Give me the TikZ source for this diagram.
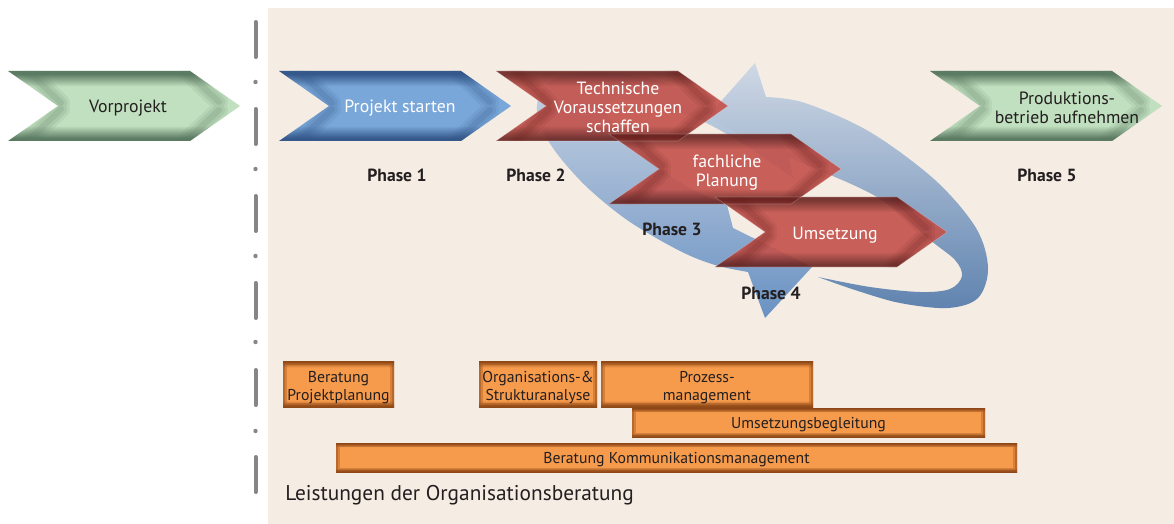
\documentclass[tikz,border=0pt]{standalone}
\usepackage{fontspec}
\setmainfont{PT Sans}
\definecolor{bgbeige}{HTML}{F5ECE3}
\definecolor{dashgray}{HTML}{86868A}
\definecolor{gdark}{HTML}{5C7B63}
\definecolor{glight}{HTML}{C1E0BF}
\definecolor{bdark}{HTML}{35598A}
\definecolor{blight}{HTML}{7AA7DA}
\definecolor{rdark}{HTML}{6C2421}
\definecolor{rlight}{HTML}{C4514A}
\definecolor{odark}{HTML}{8E4716}
\definecolor{olight}{HTML}{F69A4B}
\definecolor{txt}{HTML}{231F20}
\definecolor{alight}{HTML}{CAD4E2}
\definecolor{adark}{HTML}{6A92C3}
\pgfdeclareverticalshading{grsh}{100bp}{color(0bp)=(gdark); color(27bp)=(gdark); color(36bp)=(glight); color(64bp)=(glight); color(73bp)=(gdark); color(100bp)=(gdark)}
\pgfdeclareverticalshading{blsh}{100bp}{color(0bp)=(bdark); color(27bp)=(bdark); color(36bp)=(blight); color(64bp)=(blight); color(73bp)=(bdark); color(100bp)=(bdark)}
\pgfdeclareverticalshading{rdsh}{100bp}{color(0bp)=(rdark); color(27bp)=(rdark); color(36bp)=(rlight); color(64bp)=(rlight); color(73bp)=(rdark); color(100bp)=(rdark)}
\pgfdeclareverticalshading{orsh}{100bp}{color(0bp)=(odark); color(25bp)=(odark); color(32bp)=(olight); color(68bp)=(olight); color(75bp)=(odark); color(100bp)=(odark)}
\newcommand\chevpath[2]{(#1,#2) -- ++(182,0) -- ++(50,35) -- ++(-50,35) -- ++(-182,0) -- ++(50,-35) -- cycle}
\newcommand\chev[5]{%
  \begin{scope}
    \shade[shading=#3, fill opacity=#5] \chevpath{#1}{#2};
    \clip \chevpath{#1}{#2};
    \foreach \w/\o in {18/0.10, 12/0.13, 6/0.16} {
      \draw[#4, line width=\w*0.75pt, opacity=\o, line cap=round]
        (#1+20,#2) -- (#1+53,#2+32) (#1+53,#2+38) -- (#1+20,#2+70)
        (#1+178,#2) -- (#1+211,#2+31) (#1+211,#2+39) -- (#1+178,#2+70);
    }
  \end{scope}}
\tikzset{
  chevtext/.style={align=center, font=\fontsize{13.3}{14.25}\selectfont, inner sep=0pt},
  phase/.style={font=\fontsize{13.2}{15}\selectfont\bfseries, text=txt, inner sep=0pt},
  obox/.style={shade, shading=orsh, inner sep=0pt,
    path picture={\draw[odark, line width=6pt, opacity=0.3] (path picture bounding box.south west) rectangle (path picture bounding box.north east);
                  \draw[odark, line width=3pt, opacity=0.4] (path picture bounding box.south west) rectangle (path picture bounding box.north east);}},
  boxtext/.style={inner sep=0pt, align=center, text=txt, font=\fontsize{11.8}{13.5}\selectfont},
}
\begin{document}
\begin{tikzpicture}[x=0.75pt,y=-0.75pt]
\useasboundingbox (0,0) rectangle (1174,524);
\fill[white] (0,0) rectangle (1174,524);
\fill[bgbeige] (268,8) rectangle (1174,524);
% dash-dot separator
\foreach \y in {22,109,196,283,370,457} {
  \draw[dashgray, line width=3pt, line cap=round] (255.5,\y) -- (255.5,\y+35);
}
\foreach \y in {82,169,256,342,431} {
  \fill[dashgray] (255.5,\y) circle (2.2);
}
% green and blue chevrons
\chev{8}{71}{grsh}{gdark}{1}
\node[chevtext, text=txt] (vor) at (128,108) {Vorprojekt};
\chev{279}{71}{blsh}{bdark}{1}
\node[chevtext, text=white] (ps) at (400,108) {Projekt starten};
\chev{930}{71}{grsh}{gdark}{1}
\node[chevtext, text=txt] (prod) at (1067,108) {Produktions-\\betrieb aufnehmen};
% blue circular arrows
\shade[top color=alight, bottom color=adark]
  plot[smooth, tension=0.55] coordinates {(788,152) (750,125) (705,100) (655,80) (600,72) (560,76) (541,92) (537,112) (545,135) (562,160) (590,190) (630,222) (680,251) (715,265) (748,272)}
  -- (765,318) -- (812,267) -- (733,228) -- (727,205)
  -- plot[smooth, tension=0.55] coordinates {(727,205) (690,188) (652,163) (622,135) (607,112) (615,100) (650,103) (700,120) (745,145) (793,178)}
  -- cycle;
\shade[top color=alight!90!white, bottom color=adark!90!black]
  (755,63) -- (766,97)
  -- plot[smooth, tension=0.55] coordinates {(766,97) (805,103) (870,132) (935,180) (976,228) (988,268) (978,298) (948,308) (900,303) (855,290) (818,277)}
  -- plot[smooth, tension=0.55] coordinates {(818,277) (870,287) (920,292) (950,289) (962,276) (955,260) (930,240) (877,197) (800,162) (740,134) (708,116)}
  -- cycle;
% red chevrons
\chev{496}{71}{rdsh}{rdark}{0.9}
\chev{609}{134}{rdsh}{rdark}{0.9}
\chev{715}{197}{rdsh}{rdark}{0.9}
\foreach \cx/\cy in {496/71, 609/134, 715/197} {
  \draw[white, opacity=0.25, line width=0.4pt] \chevpath{\cx}{\cy};
}
\node[chevtext, text=white] (tvs) at (618,107) {Technische\\Voraussetzungen\\schaffen};
\node[chevtext, text=white] (fp) at (727,173) {fachliche\\Planung};
\node[chevtext, text=white] (ums) at (835,235) {Umsetzung};
% phase labels
\node[phase] (p1) at (397,175) {Phase 1};
\node[phase] (p2) at (536,175) {Phase 2};
\node[phase] (p3) at (672,229) {Phase 3};
\node[phase] (p4) at (771,293) {Phase 4};
\node[phase] (p5) at (1047,175) {Phase 5};
% orange service boxes
\node[obox, minimum width=83.25pt, minimum height=34.5pt] (b1) at (338.5,384) {};
\node[obox, minimum width=88.5pt, minimum height=34.5pt] (b2) at (538,384) {};
\node[obox, minimum width=159pt, minimum height=34.5pt] (b3) at (707,384) {};
\node[obox, minimum width=264.75pt, minimum height=21.75pt] (b4) at (808.5,422.5) {};
\node[obox, minimum width=510.75pt, minimum height=21.75pt] (b5) at (676.5,457.5) {};
\node[boxtext] (t1) at ([yshift=-2.8pt]b1.center) {Beratung\\Projektplanung};
\node[boxtext] (t2) at ([yshift=-2.8pt]b2.center) {Organisations-\&\\Strukturanalyse};
\node[boxtext] (t3) at ([yshift=-2.8pt]b3.center) {Prozess-\\management};
\node[boxtext] (t4) at ([yshift=-1.5pt]b4.center) {Umsetzungsbegleitung};
\node[boxtext] (t5) at ([yshift=-1.5pt]b5.center) {Beratung Kommunikationsmanagement};
\node[anchor=west, inner sep=0pt, text=txt, font=\fontsize{16}{18}\selectfont] (leist) at (285,495) {Leistungen der Organisationsberatung};
\end{tikzpicture}
\end{document}
